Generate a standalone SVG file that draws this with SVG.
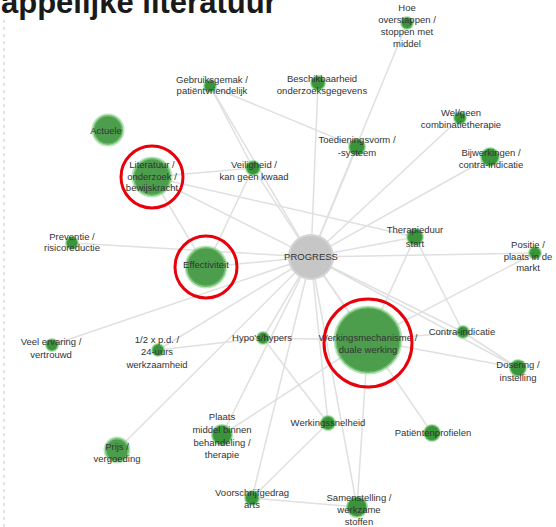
<svg xmlns="http://www.w3.org/2000/svg" width="556" height="527" viewBox="0 0 556 527">
<style>
.bg{fill:#ffffff}
.e{stroke:#e0e0e0;stroke-width:1.5;fill:none}
.n{fill:#3a943a;stroke:#7fd07f;stroke-width:2;stroke-opacity:.6}
.b{fill:#4c9e4c;stroke:#8ed48e;stroke-width:3;stroke-opacity:.6}
.hub{fill:#c6c6c6;stroke:#d4d4d4;stroke-width:2}
.red{fill:none;stroke:#e8000b;stroke-width:3}
text{font-family:"Liberation Sans",Arial,sans-serif;font-size:9.5px;fill:#333;text-anchor:middle}
.title{font-size:31px;font-weight:bold;fill:#1a1a1a;text-anchor:start}
</style>
<rect class="bg" x="0" y="0" width="556" height="527"/>
<line x1="4" y1="20" x2="4" y2="527" stroke="#e4e4e4" stroke-width="2" stroke-dasharray="3 4"/>
<text class="title" x="1" y="13">appelijke literatuur</text>
<g id="connectors">
<line class="e" x1="311" y1="257" x2="407" y2="23"/>
<line class="e" x1="311" y1="257" x2="210" y2="86"/>
<line class="e" x1="311" y1="257" x2="318" y2="83"/>
<line class="e" x1="311" y1="257" x2="460" y2="118"/>
<line class="e" x1="311" y1="257" x2="357" y2="147"/>
<line class="e" x1="311" y1="257" x2="490" y2="157"/>
<line class="e" x1="311" y1="257" x2="152" y2="177"/>
<line class="e" x1="311" y1="257" x2="253" y2="168"/>
<line class="e" x1="311" y1="257" x2="415" y2="237"/>
<line class="e" x1="311" y1="257" x2="72" y2="243"/>
<line class="e" x1="311" y1="257" x2="535" y2="253"/>
<line class="e" x1="311" y1="257" x2="206" y2="267"/>
<line class="e" x1="311" y1="257" x2="263" y2="338"/>
<line class="e" x1="311" y1="257" x2="368" y2="340"/>
<line class="e" x1="311" y1="257" x2="463" y2="332"/>
<line class="e" x1="311" y1="257" x2="52" y2="345"/>
<line class="e" x1="311" y1="257" x2="158" y2="350"/>
<line class="e" x1="311" y1="257" x2="518" y2="368"/>
<line class="e" x1="311" y1="257" x2="328" y2="423"/>
<line class="e" x1="311" y1="257" x2="432" y2="433"/>
<line class="e" x1="311" y1="257" x2="222" y2="435"/>
<line class="e" x1="311" y1="257" x2="117" y2="450"/>
<line class="e" x1="311" y1="257" x2="252" y2="498"/>
<line class="e" x1="311" y1="257" x2="357" y2="507"/>
<line class="e" x1="210" y1="86" x2="253" y2="168"/>
<line class="e" x1="210" y1="86" x2="357" y2="147"/>
<line class="e" x1="152" y1="177" x2="253" y2="168"/>
<line class="e" x1="152" y1="177" x2="206" y2="267"/>
<line class="e" x1="253" y1="168" x2="206" y2="267"/>
<line class="e" x1="152" y1="177" x2="415" y2="237"/>
<line class="e" x1="158" y1="350" x2="263" y2="338"/>
<line class="e" x1="263" y1="338" x2="368" y2="340"/>
<line class="e" x1="368" y1="340" x2="463" y2="332"/>
<line class="e" x1="368" y1="340" x2="518" y2="368"/>
<line class="e" x1="463" y1="332" x2="518" y2="368"/>
<line class="e" x1="415" y1="237" x2="368" y2="340"/>
<line class="e" x1="415" y1="237" x2="463" y2="332"/>
<line class="e" x1="368" y1="340" x2="535" y2="253"/>
<line class="e" x1="252" y1="498" x2="328" y2="423"/>
<line class="e" x1="252" y1="498" x2="357" y2="507"/>
<line class="e" x1="357" y1="507" x2="368" y2="340"/>
<line class="e" x1="263" y1="338" x2="328" y2="423"/>
<line class="e" x1="222" y1="435" x2="368" y2="340"/>
</g>
<g id="n-actuele"><circle class="b" cx="108" cy="130" r="15"/><text x="106" y="134">Actuele</text></g>
<g id="n-hoe"><circle class="n" cx="407" cy="23" r="6"/><text x="407" y="11">Hoe</text><text x="407" y="23">overstappen /</text><text x="407" y="35">stoppen met</text><text x="407" y="47">middel</text></g>
<g id="n-gebruik"><circle class="n" cx="210" cy="86" r="6"/><text x="212" y="83">Gebruiksgemak /</text><text x="212" y="94">patiëntvriendelijk</text></g>
<g id="n-beschik"><circle class="n" cx="318" cy="83" r="7"/><text x="322" y="82">Beschikbaarheid</text><text x="322" y="94">onderzoeksgegevens</text></g>
<g id="n-welgeen"><circle class="n" cx="460" cy="118" r="6"/><text x="461" y="116">Wel/geen</text><text x="461" y="128">combinatietherapie</text></g>
<g id="n-toedien"><circle class="n" cx="357" cy="147" r="8"/><text x="357" y="143">Toedieningsvorm /</text><text x="357" y="156">-systeem</text></g>
<g id="n-bijwerk"><circle class="n" cx="490" cy="157" r="9"/><text x="491" y="156">Bijwerkingen /</text><text x="491" y="168">contra-indicatie</text></g>
<g id="n-literatuur"><circle class="b" cx="152" cy="177" r="19"/><text x="152" y="168">Literatuur /</text><text x="152" y="180">onderzoek /</text><text x="152" y="191">bewijskracht</text></g>
<g id="n-veilig"><circle class="n" cx="253" cy="168" r="7"/><text x="254" y="168">Veiligheid /</text><text x="254" y="180">kan geen kwaad</text></g>
<g id="n-therapie"><circle class="n" cx="415" cy="237" r="8"/><text x="415" y="233">Therapieduur</text><text x="415" y="247">start</text></g>
<g id="n-preventie"><circle class="n" cx="72" cy="243" r="6"/><text x="72" y="240">Preventie /</text><text x="72" y="251">risicoreductie</text></g>
<g id="n-positie"><circle class="n" cx="535" cy="253" r="6"/><text x="528" y="248">Positie /</text><text x="528" y="260">plaats in de</text><text x="528" y="271">markt</text></g>
<g id="n-progress"><circle class="hub" cx="311" cy="257" r="22"/><text x="311" y="260">PROGRESS</text></g>
<g id="n-effect"><circle class="b" cx="206" cy="267" r="20"/><text x="206" y="268">Effectiviteit</text></g>
<g id="n-hypo"><circle class="n" cx="263" cy="338" r="6"/><text x="262" y="341">Hypo's/hypers</text></g>
<g id="n-werkmech"><circle class="b" cx="368" cy="340" r="33"/><text x="368" y="341">Werkingsmechanisme /</text><text x="368" y="353">duale werking</text></g>
<g id="n-contra"><circle class="n" cx="463" cy="332" r="6"/><text x="462" y="335">Contra-indicatie</text></g>
<g id="n-veel"><circle class="n" cx="52" cy="345" r="6"/><text x="51" y="345">Veel ervaring /</text><text x="51" y="358">vertrouwd</text></g>
<g id="n-halfx"><circle class="n" cx="158" cy="350" r="6"/><text x="157" y="343">1/2 x p.d. /</text><text x="157" y="355">24-uurs</text><text x="157" y="368">werkzaamheid</text></g>
<g id="n-dosering"><circle class="n" cx="518" cy="368" r="8"/><text x="518" y="368">Dosering /</text><text x="518" y="381">instelling</text></g>
<g id="n-snelheid"><circle class="n" cx="328" cy="423" r="7"/><text x="328" y="426">Werkingssnelheid</text></g>
<g id="n-profielen"><circle class="n" cx="432" cy="433" r="8"/><text x="433" y="436">Patiëntenprofielen</text></g>
<g id="n-plaats"><circle class="n" cx="222" cy="435" r="10"/><text x="222" y="420">Plaats</text><text x="222" y="433">middel binnen</text><text x="222" y="446">behandeling /</text><text x="222" y="458">therapie</text></g>
<g id="n-prijs"><circle class="b" cx="117" cy="450" r="12"/><text x="117" y="450">Prijs /</text><text x="117" y="462">vergoeding</text></g>
<g id="n-voorschrijf"><circle class="n" cx="252" cy="498" r="7"/><text x="252" y="496">Voorschrijfgedrag</text><text x="252" y="508">arts</text></g>
<g id="n-samen"><circle class="n" cx="357" cy="507" r="10"/><text x="359" y="501">Samenstelling /</text><text x="359" y="513">werkzame</text><text x="359" y="525">stoffen</text></g>
<g id="highlights">
<circle class="red" cx="152" cy="177" r="31"/>
<circle class="red" cx="206" cy="267" r="31"/>
<circle class="red" cx="368" cy="343" r="44"/>
</g>
</svg>
